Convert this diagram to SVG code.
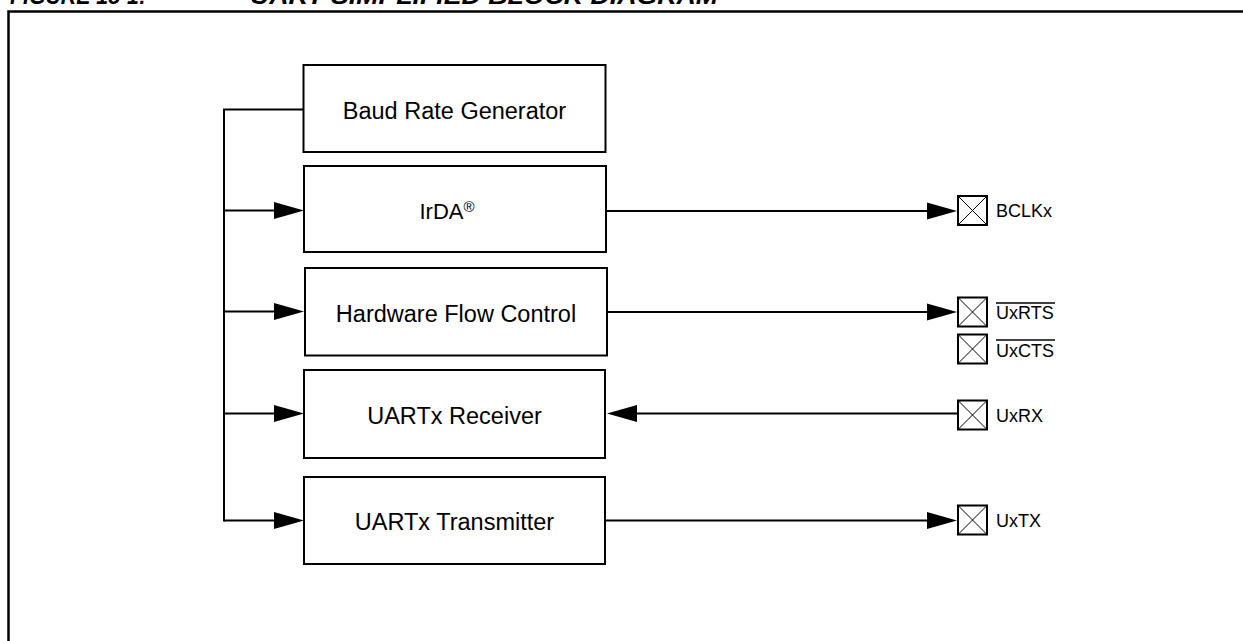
<svg xmlns="http://www.w3.org/2000/svg" width="1243" height="641" viewBox="0 0 1243 641">
<style>
  .box { fill: #fff; stroke: #000; stroke-width: 2; }
  .lbl { font-family: "Liberation Sans", Arial, sans-serif; font-size: 23.5px; fill: #000; text-anchor: middle; }
  .pin { fill: #fff; stroke: #000; stroke-width: 2; }
  .pinx { stroke: #000; stroke-width: 1; }
  .plbl { font-family: "Liberation Sans", Arial, sans-serif; font-size: 18px; fill: #000; }
  .wire { fill: none; stroke: #000; stroke-width: 2; }
  .title { font-family: "Liberation Sans", Arial, sans-serif; font-size: 24px; font-weight: bold; font-style: italic; fill: #000; }
</style>
<defs>
  <marker id="ah" markerUnits="userSpaceOnUse" markerWidth="32" markerHeight="18" refX="0" refY="8.5" orient="auto" overflow="visible">
    <path d="M0,0 L30,8.5 L0,17 Z" fill="#000"/>
  </marker>
</defs>
<rect width="1243" height="641" fill="#fff"/>
<text class="title" x="10" y="4" textLength="136" lengthAdjust="spacingAndGlyphs">FIGURE 18-1:</text>
<text class="title" x="250" y="4" textLength="468" lengthAdjust="spacingAndGlyphs">UART SIMPLIFIED BLOCK DIAGRAM</text>
<rect x="8.5" y="11.5" width="1300" height="700" fill="none" stroke="#000" stroke-width="2.5"/>

<g id="baud">
  <rect class="box" x="303.5" y="65" width="302" height="87"/>
  <text class="lbl" x="454.5" y="118.5">Baud Rate Generator</text>
</g>
<g id="irda">
  <rect class="box" x="304" y="166" width="302" height="86"/>
  <text class="lbl" x="447" y="218.5" style="font-size:22px">IrDA<tspan dy="-6.5" style="font-size:15px">®</tspan></text>
</g>
<g id="hfc">
  <rect class="box" x="305" y="268" width="302" height="87.5"/>
  <text class="lbl" x="456" y="321.5">Hardware Flow Control</text>
</g>
<g id="rx">
  <rect class="box" x="304" y="370" width="301" height="88"/>
  <text class="lbl" x="454.5" y="424">UARTx Receiver</text>
</g>
<g id="tx">
  <rect class="box" x="304" y="477" width="301" height="87"/>
  <text class="lbl" x="454.5" y="530">UARTx Transmitter</text>
</g>

<g id="pin-bclkx">
  <rect class="pin" x="958" y="196" width="29" height="29"/>
  <path class="pinx" d="M958,196 L987,225 M987,196 L958,225"/>
  <text class="plbl" x="996" y="217.3">BCLKx</text>
</g>
<g id="pin-uxrts">
  <rect class="pin" x="958" y="297.5" width="29" height="29"/>
  <path class="pinx" d="M958,297.5 L987,326.5 M987,297.5 L958,326.5"/>
  <text class="plbl" x="996" y="319">UxRTS</text>
  <line x1="996" y1="303" x2="1055" y2="303" stroke="#000" stroke-width="1.5"/>
</g>
<g id="pin-uxcts">
  <rect class="pin" x="958" y="334.5" width="29" height="29"/>
  <path class="pinx" d="M958,334.5 L987,363.5 M987,334.5 L958,363.5"/>
  <text class="plbl" x="996" y="356.5">UxCTS</text>
  <line x1="996" y1="340" x2="1055" y2="340" stroke="#000" stroke-width="1.5"/>
</g>
<g id="pin-uxrx">
  <rect class="pin" x="958" y="400.5" width="29" height="29"/>
  <path class="pinx" d="M958,400.5 L987,429.5 M987,400.5 L958,429.5"/>
  <text class="plbl" x="996" y="421.7">UxRX</text>
</g>
<g id="pin-uxtx">
  <rect class="pin" x="958" y="505.5" width="29" height="29"/>
  <path class="pinx" d="M958,505.5 L987,534.5 M987,505.5 L958,534.5"/>
  <text class="plbl" x="996" y="526.7">UxTX</text>
</g>

<g id="connectors">
  <path class="wire" d="M303,109.5 H224 V521.5"/>
  <path class="wire" d="M224,210.5 H274" marker-end="url(#ah)"/>
  <path class="wire" d="M224,311.5 H274" marker-end="url(#ah)"/>
  <path class="wire" d="M224,413.5 H274" marker-end="url(#ah)"/>
  <path class="wire" d="M224,520.5 H274" marker-end="url(#ah)"/>
  <path class="wire" d="M606,211 H927" marker-end="url(#ah)"/>
  <path class="wire" d="M607,312 H927" marker-end="url(#ah)"/>
  <path class="wire" d="M957,413.5 H637" marker-end="url(#ah)"/>
  <path class="wire" d="M605,520.5 H927" marker-end="url(#ah)"/>
</g>
</svg>
